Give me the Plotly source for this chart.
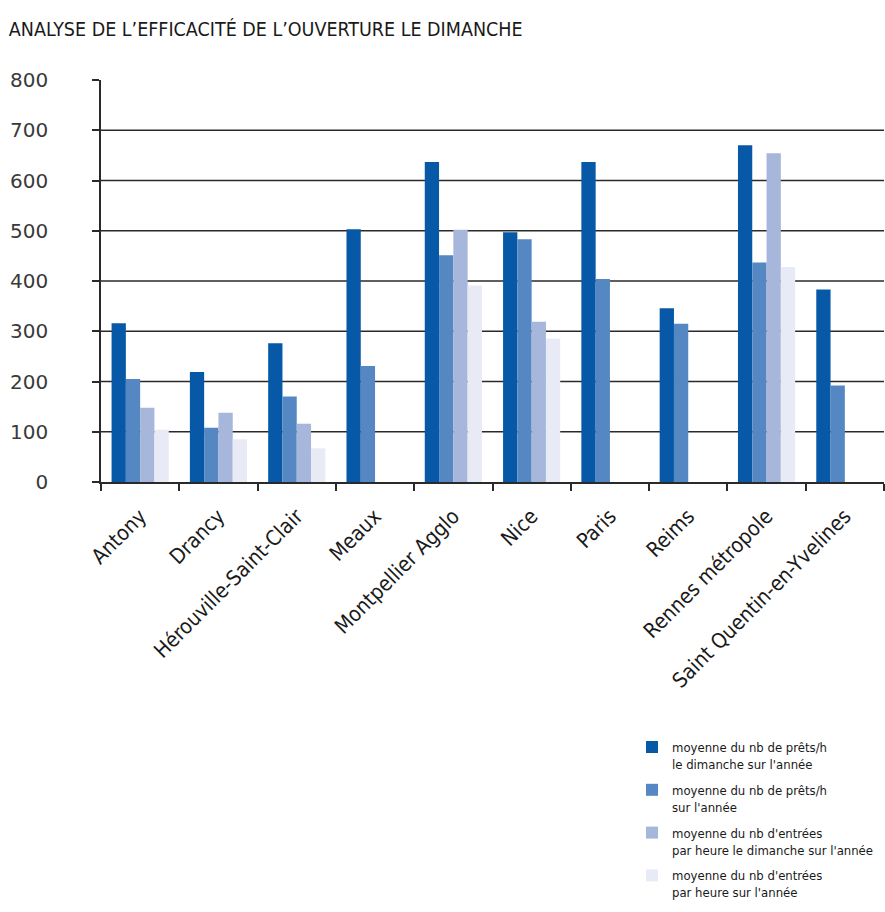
import plotly.graph_objects as go

# Libraries and their Sunday-opening indicators
villes = ["Antony", "Drancy", "Hérouville-Saint-Clair", "Meaux", "Montpellier Agglo",
          "Nice", "Paris", "Reims", "Rennes métropole", "Saint Quentin-en-Yvelines"]

prets_dimanche = [316, 219, 276, 503, 637, 497, 637, 346, 670, 383]
prets_annee = [205, 108, 170, 231, 451, 483, 404, 315, 437, 192]
entrees_dimanche = [148, 138, 116, None, 502, 319, None, None, 654, None]
entrees_annee = [104, 85, 67, None, 391, 285, None, None, 428, None]

noms = [
    "moyenne du nb de prêts/h<br>le dimanche sur l'année",
    "moyenne du nb de prêts/h<br>sur l'année",
    "moyenne du nb d'entrées<br>par heure le dimanche sur l'année",
    "moyenne du nb d'entrées<br>par heure sur l'année",
]
series = [prets_dimanche, prets_annee, entrees_dimanche, entrees_annee]
couleurs = ["#0759A8", "#5588C3", "#A6B7DB", "#E8EBF6"]

y_ticks = [0, 100, 200, 300, 400, 500, 600, 700, 800]
grid_vals = [100, 200, 300, 400, 500, 600, 700]

COND = "DejaVu Sans Condensed, Liberation Sans Narrow, sans-serif"

fig = go.Figure()
for i, (nom, vals, c) in enumerate(zip(noms, series, couleurs)):
    fig.add_trace(go.Bar(
        x=villes, y=vals, name=nom, marker=dict(color=c, line=dict(width=0)),
        legendgroup=f"g{i}",
    ))

# horizontal gridlines (none at the top value)
for v in grid_vals:
    fig.add_shape(type="line", xref="paper", yref="y", x0=0, x1=1, y0=v, y1=v,
                  line=dict(color="#2a2a2a", width=1.5), layer="below")

fig.update_layout(
    width=885, height=912,
    margin=dict(l=101, r=1, t=80, b=430),
    paper_bgcolor="white", plot_bgcolor="white",
    barmode="group", bargap=0.27, bargroupgap=0,
    title=dict(
        text="ANALYSE DE L’EFFICACITÉ DE L’OUVERTURE LE DIMANCHE",
        x=0.01, xref="container", xanchor="left",
        y=1 - 29 / 912, yref="container", yanchor="middle",
        font=dict(family=COND, size=19.5, color="#1a1a1a"),
    ),
    xaxis=dict(
        automargin=False,
        showline=True, linecolor="#2a2a2a", linewidth=1.5,
        ticks="outside", tickson="boundaries", ticklen=7, tickcolor="#2a2a2a", tickwidth=1.5,
        tickangle=-45, ticklabelstandoff=12,
        tickfont=dict(family=COND, size=21, color="#1a1a1a"),
        showgrid=False,
    ),
    yaxis=dict(
        automargin=False,
        range=[0, 800], tickvals=y_ticks,
        showline=True, linecolor="#2a2a2a", linewidth=1.5,
        ticks="outside", ticklen=7, tickcolor="#2a2a2a", tickwidth=1.5,
        ticklabelstandoff=40,
        tickfont=dict(family="DejaVu Sans, sans-serif", size=20, color="#3a3a3a"),
        showgrid=False, zeroline=False,
    ),
    legend=dict(
        x=(632 - 101) / 783, xanchor="left", y=-0.622, yanchor="top",
        traceorder="grouped", tracegroupgap=6, valign="top",
        font=dict(family=COND, size=13, color="#1a1a1a"),
        itemwidth=30,
    ),
)

fig.write_html("out.html")
